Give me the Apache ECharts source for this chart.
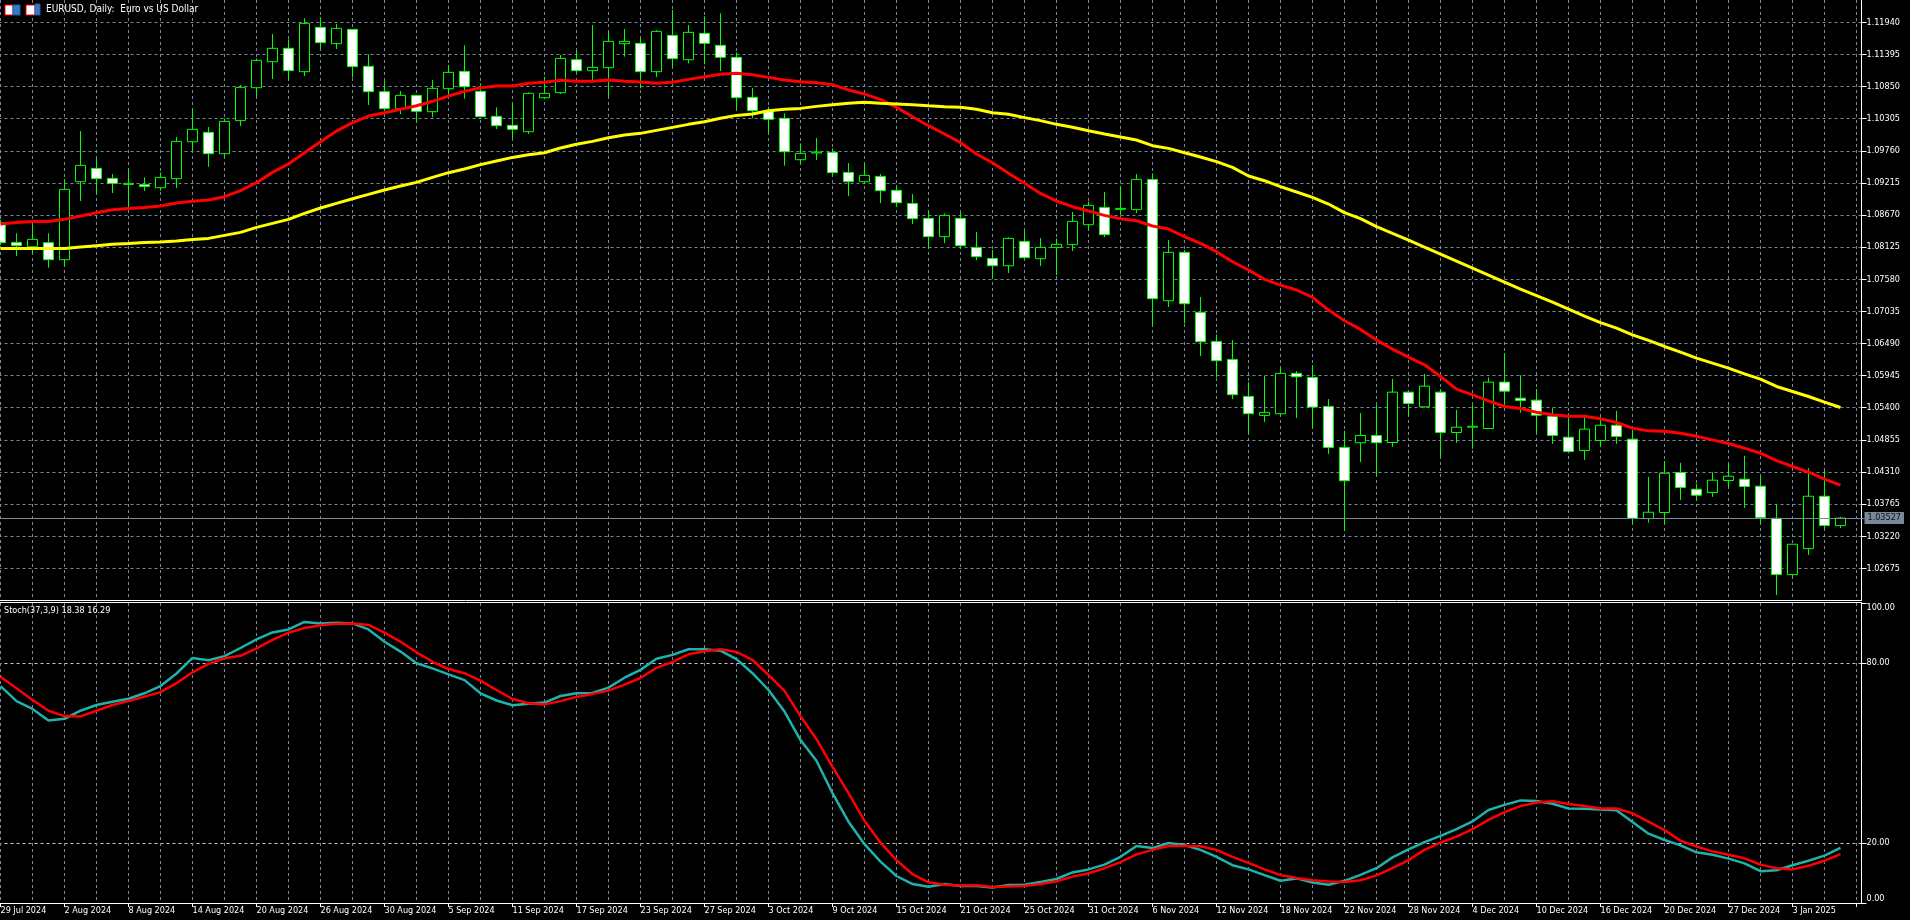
<!DOCTYPE html>
<html><head><meta charset="utf-8">
<style>html,body{margin:0;padding:0;background:#000;overflow:hidden}#c{width:1910px;height:920px}</style>
<script src="https://cdn.jsdelivr.net/npm/echarts@6/dist/echarts.min.js"></script>
</head><body><div id="c"></div>
<script>
const dates = ["29 Jul 2024","30 Jul 2024","31 Jul 2024","1 Aug 2024","2 Aug 2024","5 Aug 2024","6 Aug 2024","7 Aug 2024","8 Aug 2024","9 Aug 2024","12 Aug 2024","13 Aug 2024","14 Aug 2024","15 Aug 2024","16 Aug 2024","19 Aug 2024","20 Aug 2024","21 Aug 2024","22 Aug 2024","23 Aug 2024","26 Aug 2024","27 Aug 2024","28 Aug 2024","29 Aug 2024","30 Aug 2024","2 Sep 2024","3 Sep 2024","4 Sep 2024","5 Sep 2024","6 Sep 2024","9 Sep 2024","10 Sep 2024","11 Sep 2024","12 Sep 2024","13 Sep 2024","16 Sep 2024","17 Sep 2024","18 Sep 2024","19 Sep 2024","20 Sep 2024","23 Sep 2024","24 Sep 2024","25 Sep 2024","26 Sep 2024","27 Sep 2024","30 Sep 2024","1 Oct 2024","2 Oct 2024","3 Oct 2024","4 Oct 2024","7 Oct 2024","8 Oct 2024","9 Oct 2024","10 Oct 2024","11 Oct 2024","14 Oct 2024","15 Oct 2024","16 Oct 2024","17 Oct 2024","18 Oct 2024","21 Oct 2024","22 Oct 2024","23 Oct 2024","24 Oct 2024","25 Oct 2024","28 Oct 2024","29 Oct 2024","30 Oct 2024","31 Oct 2024","1 Nov 2024","4 Nov 2024","5 Nov 2024","6 Nov 2024","7 Nov 2024","8 Nov 2024","11 Nov 2024","12 Nov 2024","13 Nov 2024","14 Nov 2024","15 Nov 2024","18 Nov 2024","19 Nov 2024","20 Nov 2024","21 Nov 2024","22 Nov 2024","25 Nov 2024","26 Nov 2024","27 Nov 2024","28 Nov 2024","29 Nov 2024","2 Dec 2024","3 Dec 2024","4 Dec 2024","5 Dec 2024","6 Dec 2024","9 Dec 2024","10 Dec 2024","11 Dec 2024","12 Dec 2024","13 Dec 2024","16 Dec 2024","17 Dec 2024","18 Dec 2024","19 Dec 2024","20 Dec 2024","23 Dec 2024","24 Dec 2024","26 Dec 2024","27 Dec 2024","30 Dec 2024","31 Dec 2024","2 Jan 2025","3 Jan 2025","6 Jan 2025","7 Jan 2025","8 Jan 2025",""];
const opens = [1.08539,1.08205,1.08131,1.08200,1.07911,1.09235,1.09461,1.09291,1.09189,1.09184,1.09133,1.09286,1.09913,1.10072,1.09710,1.10271,1.10830,1.11271,1.11498,1.11102,1.11854,1.11577,1.11820,1.11193,1.10762,1.10474,1.10700,1.10423,1.10813,1.11107,1.10768,1.10344,1.10191,1.10083,1.10660,1.10746,1.11305,1.11119,1.11169,1.11577,1.11582,1.11102,1.11718,1.11305,1.11752,1.11549,1.11345,1.10666,1.10440,1.10310,1.09608,1.09721,1.09733,1.09393,1.09235,1.09325,1.09088,1.08867,1.08613,1.08302,1.08613,1.08120,1.07933,1.07809,1.08222,1.07928,1.08120,1.08166,1.08505,1.08799,1.08766,1.08760,1.09274,1.07215,1.08036,1.07017,1.06525,1.06220,1.05592,1.05269,1.05298,1.05982,1.05914,1.05422,1.04726,1.04806,1.04929,1.04809,1.05664,1.05415,1.05664,1.04979,1.05069,1.05047,1.05834,1.05562,1.05528,1.05256,1.04900,1.04673,1.04843,1.05103,1.04866,1.03519,1.03621,1.04300,1.04017,1.03960,1.04164,1.04187,1.04068,1.03524,1.02568,1.03009,1.03898,1.03400];
const closes = [1.08200,1.08149,1.08256,1.07911,1.09105,1.09512,1.09286,1.09207,1.09207,1.09155,1.09308,1.09919,1.10123,1.09710,1.10258,1.10836,1.11294,1.11498,1.11119,1.11922,1.11594,1.11837,1.11187,1.10762,1.10474,1.10700,1.10429,1.10819,1.11090,1.10847,1.10338,1.10185,1.10123,1.10734,1.10734,1.11327,1.11119,1.11175,1.11616,1.11616,1.11102,1.11786,1.11322,1.11769,1.11582,1.11345,1.10660,1.10440,1.10293,1.09744,1.09716,1.09738,1.09388,1.09235,1.09342,1.09082,1.08878,1.08607,1.08302,1.08663,1.08149,1.07962,1.07809,1.08273,1.07945,1.08120,1.08172,1.08561,1.08833,1.08336,1.08782,1.09274,1.07249,1.08036,1.07164,1.06519,1.06197,1.05620,1.05298,1.05320,1.05982,1.05925,1.05411,1.04726,1.04160,1.04929,1.04806,1.05664,1.05471,1.05766,1.04979,1.05069,1.05086,1.05834,1.05681,1.05522,1.05273,1.04928,1.04656,1.05036,1.05103,1.04911,1.03524,1.03626,1.04288,1.04045,1.03915,1.04170,1.04237,1.04062,1.03536,1.02568,1.03083,1.03898,1.03400,1.03527];
const lows = [1.08160,1.07973,1.08008,1.07775,1.07803,1.08907,1.09025,1.09042,1.08782,1.09077,1.09082,1.09127,1.09761,1.09489,1.09659,1.10180,1.10677,1.10977,1.10960,1.11029,1.11486,1.11486,1.11005,1.10536,1.10435,1.10383,1.10253,1.10327,1.10705,1.10643,1.10327,1.10129,1.09971,1.10044,1.10632,1.10722,1.11085,1.10960,1.10672,1.11357,1.10819,1.11011,1.11187,1.11243,1.11226,1.11113,1.10451,1.10310,1.10061,1.09507,1.09535,1.09602,1.09347,1.08991,1.09195,1.08872,1.08805,1.08516,1.08092,1.08194,1.08092,1.07905,1.07600,1.07685,1.07922,1.07803,1.07650,1.08058,1.08431,1.08296,1.08669,1.08703,1.06802,1.07108,1.06831,1.06276,1.05914,1.05546,1.04953,1.05156,1.05275,1.05224,1.05048,1.04613,1.03306,1.04477,1.04240,1.04736,1.05262,1.05403,1.04571,1.04803,1.04702,1.05047,1.05432,1.05313,1.04968,1.04786,1.04628,1.04515,1.04730,1.04786,1.03428,1.03451,1.03428,1.03836,1.03819,1.03887,1.04034,1.03700,1.03428,1.02222,1.02534,1.02902,1.03349,1.03360];
const highs = [1.08584,1.08358,1.08499,1.08358,1.09280,1.10094,1.09630,1.09365,1.09444,1.09308,1.09393,1.09993,1.10468,1.10163,1.10310,1.10875,1.11327,1.11741,1.11651,1.12007,1.12024,1.11910,1.11820,1.11396,1.10943,1.10774,1.10700,1.10960,1.11215,1.11549,1.10904,1.10496,1.10547,1.10751,1.11016,1.11385,1.11469,1.11893,1.11791,1.11826,1.11673,1.11809,1.12148,1.11893,1.12041,1.12091,1.11430,1.10824,1.10508,1.10394,1.09885,1.09976,1.09800,1.09552,1.09535,1.09365,1.09178,1.09025,1.08737,1.08697,1.08714,1.08380,1.08075,1.08290,1.08397,1.08278,1.08273,1.08720,1.08895,1.09060,1.09161,1.09365,1.09377,1.08245,1.08075,1.07278,1.06644,1.06548,1.05834,1.05937,1.06067,1.06022,1.06123,1.05546,1.05009,1.05309,1.05445,1.05890,1.05664,1.05975,1.05715,1.05364,1.05443,1.05913,1.06326,1.05952,1.05720,1.05392,1.05307,1.05279,1.05251,1.05347,1.05024,1.04226,1.04498,1.04464,1.04107,1.04305,1.04447,1.04583,1.04243,1.03768,1.03083,1.04373,1.04339,1.03547];
const maFast = [1.08516,1.08544,1.08561,1.08561,1.08596,1.08652,1.08708,1.08760,1.08782,1.08799,1.08822,1.08872,1.08902,1.08924,1.08980,1.09082,1.09218,1.09393,1.09535,1.09727,1.09913,1.10094,1.10236,1.10349,1.10405,1.10463,1.10524,1.10599,1.10688,1.10768,1.10830,1.10858,1.10858,1.10904,1.10921,1.10955,1.10938,1.10938,1.10960,1.10938,1.10926,1.10904,1.10921,1.10971,1.11016,1.11057,1.11074,1.11051,1.11005,1.10960,1.10932,1.10915,1.10882,1.10791,1.10722,1.10632,1.10496,1.10338,1.10185,1.10044,1.09897,1.09705,1.09557,1.09377,1.09207,1.09036,1.08907,1.08811,1.08737,1.08663,1.08607,1.08573,1.08483,1.08431,1.08302,1.08188,1.08047,1.07877,1.07736,1.07577,1.07481,1.07397,1.07272,1.07056,1.06876,1.06728,1.06548,1.06394,1.06258,1.06128,1.05930,1.05715,1.05618,1.05517,1.05420,1.05386,1.05324,1.05279,1.05256,1.05256,1.05211,1.05149,1.05052,1.05007,1.05002,1.04968,1.04917,1.04854,1.04792,1.04713,1.04628,1.04503,1.04402,1.04305,1.04187,1.04085];
const maSlow = [1.08103,1.08103,1.08103,1.08103,1.08103,1.08126,1.08149,1.08172,1.08188,1.08205,1.08211,1.08228,1.08256,1.08273,1.08324,1.08375,1.08460,1.08528,1.08596,1.08697,1.08788,1.08867,1.08946,1.09020,1.09094,1.09161,1.09224,1.09308,1.09388,1.09450,1.09524,1.09586,1.09647,1.09693,1.09727,1.09806,1.09869,1.09919,1.09982,1.10027,1.10055,1.10106,1.10157,1.10208,1.10253,1.10310,1.10360,1.10383,1.10440,1.10463,1.10479,1.10513,1.10541,1.10564,1.10582,1.10564,1.10553,1.10541,1.10524,1.10508,1.10497,1.10463,1.10406,1.10378,1.10322,1.10271,1.10208,1.10158,1.10100,1.10044,1.09994,1.09942,1.09846,1.09800,1.09727,1.09653,1.09575,1.09478,1.09331,1.09252,1.09150,1.09060,1.08969,1.08856,1.08709,1.08608,1.08472,1.08358,1.08245,1.08126,1.08008,1.07889,1.07770,1.07650,1.07531,1.07413,1.07303,1.07192,1.07073,1.06955,1.06843,1.06750,1.06637,1.06541,1.06439,1.06343,1.06241,1.06156,1.06071,1.05975,1.05885,1.05760,1.05675,1.05590,1.05494,1.05403];
const stochK = [72.3,67.3,64.7,60.8,61.4,64.1,66.0,67.1,68.1,69.9,72.3,76.5,81.7,80.9,82.3,85.0,87.9,90.2,91.2,93.7,93.2,93.4,93.2,91.2,87.1,83.8,79.9,78.2,76.2,74.3,69.9,67.5,65.9,66.4,66.8,69.0,69.9,70.0,71.8,75.1,77.7,81.4,82.7,84.6,84.6,84.1,81.3,76.6,71.0,63.8,54.3,47.4,36.6,27.1,19.6,13.8,9.0,6.3,5.4,6.3,5.7,5.7,5.2,6.0,6.1,7.0,8.0,10.2,11.2,12.8,15.4,19.0,18.3,20.0,19.3,17.7,15.4,12.6,11.2,9.3,7.4,8.2,6.8,6.1,7.4,9.4,11.6,15.2,17.9,20.3,22.4,24.6,27.2,31.0,32.7,34.2,34.0,33.1,31.5,31.4,31.2,30.9,27.0,23.1,21.0,19.2,16.9,16.1,14.8,13.2,10.6,10.9,12.6,14.1,15.8,18.38];
const stochD = [75.4,71.6,67.7,64.1,62.3,62.2,64.1,66.0,67.3,68.8,70.3,73.3,76.9,79.7,81.6,82.4,84.9,87.7,90.1,91.7,92.6,93.1,93.2,92.7,90.1,87.1,83.6,80.4,78.0,76.6,74.1,71.0,68.0,66.6,66.2,67.3,68.7,69.7,70.8,72.8,75.0,78.4,80.4,82.9,83.9,84.6,83.7,81.0,76.0,70.7,62.3,54.6,45.4,36.6,27.4,20.1,14.3,9.6,6.9,6.1,5.8,5.9,5.3,5.5,5.7,6.3,7.2,8.8,9.9,11.6,13.6,16.2,17.7,19.0,19.0,18.9,17.7,15.4,13.4,11.2,9.3,8.3,7.6,7.2,7.0,7.6,9.2,11.6,14.3,17.7,20.1,22.1,24.6,27.7,30.3,32.3,33.5,33.9,33.0,32.3,31.5,31.5,29.9,27.1,24.3,20.8,18.8,17.2,16.1,14.9,12.8,11.6,11.2,12.4,14.1,16.29];
const priceTicks = [1.11940,1.11395,1.10850,1.10305,1.09760,1.09215,1.08670,1.08125,1.07580,1.07035,1.06490,1.05945,1.05400,1.04855,1.04310,1.03765,1.03220,1.02675];
const stochTicks = [0,20,80,100];
const lastPrice = 1.03527;
const priceMin = 1.02137, priceMax = 1.12318;

const FONT = '"DejaVu Sans Condensed","Liberation Sans",sans-serif';
const GRID = '#778899';
const DASH = [3,3];
const candles = opens.map((o,i)=>[o,closes[i],lows[i],highs[i]]);
const evenBar = i => i%2===0;
const chart = echarts.init(document.getElementById('c'),null,{renderer:'canvas'});
const yBase = {type:'value',position:'right',offset:-3,scale:true,
  axisLine:{show:true,onZero:false,lineStyle:{color:'#fff',width:1}}};
chart.setOption({
  animation:false,backgroundColor:'#000',
  grid:[{left:-7.5,top:0,width:1872,height:600,outerBoundsMode:'none'},{left:-7.5,top:603,width:1872,height:300,outerBoundsMode:'none'}],
  title:[
    {text:'EURUSD, Daily:  Euro vs US Dollar',left:46,top:4,padding:0,textStyle:{color:'#fff',fontFamily:FONT,fontSize:10,fontWeight:'normal'}},
    {text:'Stoch(37,3,9) 18.38 16.29',left:4,top:606,padding:0,textStyle:{color:'#fff',fontFamily:FONT,fontSize:9,fontWeight:'normal'}}
  ],
  xAxis:[
    {type:'category',gridIndex:0,data:dates,boundaryGap:true,axisLine:{show:false},axisTick:{show:false},axisLabel:{show:false},
     splitLine:{show:true,alignWithLabel:true,interval:(i)=>evenBar(i),lineStyle:{color:GRID,type:DASH,width:1}}},
    {type:'category',gridIndex:1,data:dates,boundaryGap:true,
     axisLine:{show:true,onZero:false,lineStyle:{color:'#fff'}},
     axisTick:{show:true,alignWithLabel:true,interval:3,length:4,lineStyle:{color:'#fff'}},
     axisLabel:{color:'#fff',fontFamily:FONT,fontSize:9,interval:3,align:'left',margin:3,showMinLabel:true,hideOverlap:false},
     splitLine:{show:true,alignWithLabel:true,interval:(i)=>evenBar(i),lineStyle:{color:GRID,type:DASH,width:1}}}
  ],
  yAxis:[
    Object.assign({},yBase,{gridIndex:0,min:priceMin,max:priceMax,
      axisTick:{show:true,length:5,customValues:priceTicks,lineStyle:{color:'#fff'}},
      axisLabel:{color:'#fff',fontFamily:FONT,fontSize:9,margin:5,customValues:priceTicks,formatter:v=>v.toFixed(5)},
      splitLine:{show:true,lineStyle:{color:GRID,type:DASH,width:1}}}),
    Object.assign({},yBase,{gridIndex:1,min:0,max:100,
      axisTick:{show:true,length:5,customValues:stochTicks,lineStyle:{color:'#fff'}},
      axisLabel:{color:'#fff',fontFamily:FONT,fontSize:9,margin:5,customValues:stochTicks,formatter:v=>v.toFixed(2),
        verticalAlignMinLabel:'bottom',verticalAlignMaxLabel:'top'},
      splitLine:{show:true,showMinLine:false,showMaxLine:false,lineStyle:{color:'#c8c8c8',type:DASH,width:1}}})
  ],
  series:[
    {type:'candlestick',name:'EURUSD',xAxisIndex:0,yAxisIndex:0,data:candles,barWidth:10,silent:true,
     itemStyle:{color:'#000',color0:'#fff',borderColor:'#00ff00',borderColor0:'#00ff00',borderWidth:1}},
    {type:'line',name:'MA fast',xAxisIndex:0,yAxisIndex:0,data:maFast,symbol:'none',silent:true,lineStyle:{color:'#ff0000',width:3}},
    {type:'line',name:'MA slow',xAxisIndex:0,yAxisIndex:0,data:maSlow,symbol:'none',silent:true,lineStyle:{color:'#ffff00',width:3},
     markLine:{silent:true,symbol:'none',animation:false,precision:5,data:[{yAxis:lastPrice}],
       lineStyle:{color:GRID,type:'solid',width:1},
       label:{show:true,position:'end',distance:0,formatter:()=>lastPrice.toFixed(5),color:'#111',fontFamily:FONT,fontSize:9,backgroundColor:GRID,padding:[2,3,1,3]}}},
    {type:'line',name:'%K',xAxisIndex:1,yAxisIndex:1,data:stochK,symbol:'none',silent:true,lineStyle:{color:'#20b2aa',width:2.5}},
    {type:'line',name:'%D',xAxisIndex:1,yAxisIndex:1,data:stochD,symbol:'none',silent:true,lineStyle:{color:'#ff0000',width:2.5}}
  ],
  graphic:[
    {type:'line',silent:true,shape:{x1:0,y1:600.5,x2:1862,y2:600.5},style:{stroke:'#fff',lineWidth:1},z:50},
    {type:'line',silent:true,shape:{x1:0,y1:602.5,x2:1862,y2:602.5},style:{stroke:'#fff',lineWidth:1},z:50},
    {type:'rect',silent:true,shape:{x:5,y:5,width:8,height:10},style:{fill:'#fff',stroke:'#ff0000',lineWidth:1},z:50},
    {type:'rect',silent:true,shape:{x:13,y:5,width:7,height:10},style:{fill:'#3a78c8',stroke:'#1f5fa8',lineWidth:1},z:50},
    {type:'rect',silent:true,shape:{x:26,y:5,width:9,height:10},style:{fill:'#fff',stroke:'#ff0000',lineWidth:1},z:50},
    {type:'rect',silent:true,shape:{x:35,y:4,width:5,height:11},style:{fill:'#3a78c8',stroke:'#1f5fa8',lineWidth:1},z:50}
  ]
});
</script></body></html>
